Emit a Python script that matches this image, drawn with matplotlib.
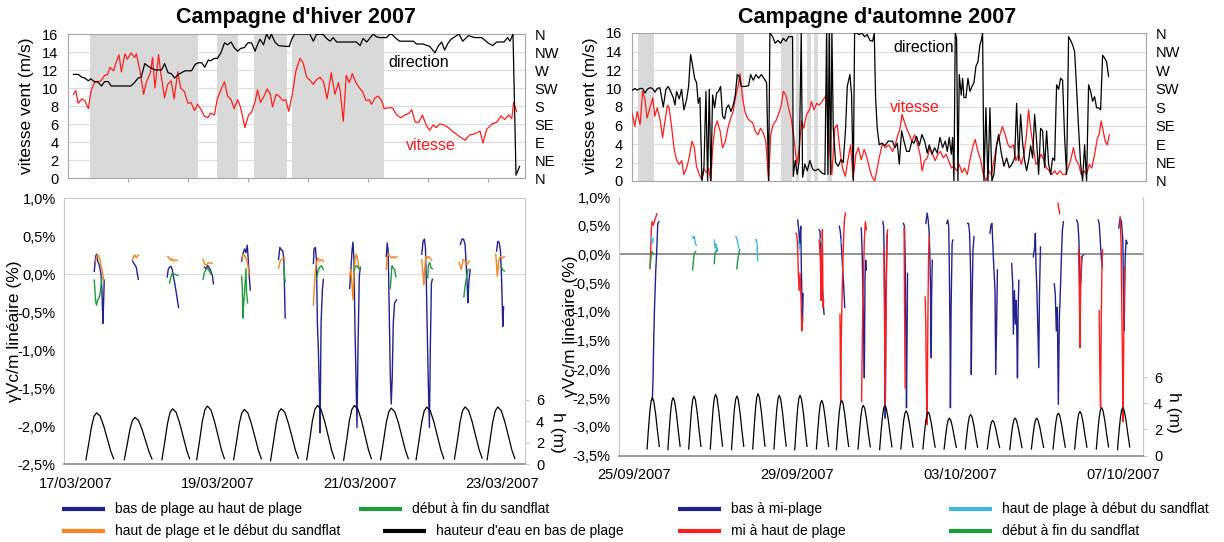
import matplotlib
matplotlib.use("Agg")
import matplotlib.pyplot as plt
from matplotlib.ticker import FuncFormatter
import numpy as np

plt.rcParams['font.family'] = ['Liberation Sans', 'DejaVu Sans']

# ---------------- winter campaign : wind (top left) ----------------
# time in plot units (one unit per x tick), speed m/s, direction deg
w_speed_t = [0.09,0.13,0.17,0.23,0.28,0.34,0.38,0.44,0.49,0.55,0.61,0.66,0.70,0.76,0.81,0.85,0.89,0.95,0.99,1.05,
             1.11,1.14,1.20,1.26,1.31,1.37,1.41,1.45,1.51,1.55,1.61,1.66,1.72,1.77,1.83,1.88,1.94,2.00,2.05,2.11,
             2.16,2.22,2.27,2.33,2.38,2.44,2.49,2.55,2.61,2.66,2.72,2.77,2.83,2.88,2.95,3.01,3.06,3.12,3.16,3.21,
             3.27,3.32,3.37,3.41,3.47,3.52,3.58,3.63,3.68,3.74,3.80,3.87,3.92,3.98,4.03,4.09,4.14,4.20,4.26,4.32,
             4.39,4.45,4.51,4.54,4.59,4.64,4.69,4.74,4.80,4.86,4.91,4.97,5.02,5.06,5.12,5.17,5.23,5.27,5.34,5.41,
             5.48,5.55,5.62,5.69,5.73,5.79,5.85,5.91,5.97,6.03,6.09,6.14,6.20,6.27,6.34,6.41,6.53,6.62,6.70,6.78,
             6.87,6.92,6.98,7.07,7.15,7.22,7.28,7.35,7.40,7.43,7.48]
w_speed = [9.3,9.7,8.3,8.8,8.6,7.7,9.6,10.6,10.7,10.8,11.4,11.5,12.3,11.9,13.0,13.7,11.8,13.8,13.2,13.9,
           13.4,13.8,11.9,9.3,10.7,11.6,13.4,10.0,13.7,11.5,8.9,10.4,10.8,8.8,11.8,10.0,9.6,8.3,8.4,7.5,
           8.2,7.6,6.9,6.7,7.2,7.0,8.8,9.8,10.7,9.1,8.7,7.7,8.7,7.8,5.6,7.0,7.3,8.5,9.8,8.4,
           9.1,9.9,9.4,7.9,9.3,9.1,8.6,8.7,7.4,9.3,11.9,13.3,12.8,11.2,10.9,10.4,10.9,11.2,10.7,8.8,
           11.7,9.3,10.6,9.6,6.3,11.4,10.6,11.6,10.6,10.0,9.6,8.6,8.7,8.2,8.9,9.1,8.6,7.7,7.8,7.8,
           7.0,6.7,7.0,7.2,7.6,6.2,6.2,7.0,5.9,5.3,5.9,5.6,6.0,5.9,5.6,5.2,4.6,4.2,4.8,4.9,
           5.2,3.9,5.4,6.0,6.2,6.9,6.5,7.0,6.6,8.4,7.4]
w_dir_t = [0.09,0.17,0.23,0.28,0.34,0.38,0.44,0.49,0.56,0.61,0.67,0.72,1.05,1.11,1.17,1.22,1.28,1.34,1.39,1.45,
           1.56,1.61,1.67,1.72,1.78,1.84,1.89,1.95,2.06,2.12,2.17,2.23,2.28,2.34,2.38,2.44,2.49,2.55,2.61,2.66,
           2.72,2.77,2.83,2.88,2.94,3.00,3.06,3.12,3.14,3.20,3.26,3.31,3.36,3.39,3.45,3.51,3.63,3.69,3.73,3.78,
           3.98,4.03,4.09,4.14,4.20,4.26,4.31,4.37,4.42,4.48,4.81,4.87,4.92,4.98,5.03,5.09,5.14,5.20,5.31,5.37,
           5.41,5.47,5.53,5.76,5.81,5.92,6.03,6.12,6.17,6.23,6.28,6.34,6.39,6.52,6.58,6.68,6.78,6.90,7.00,7.08,
           7.15,7.27,7.33,7.37,7.42,7.47,7.53]
w_dir = [259,259,252,250,243,248,241,241,230,241,241,230,230,239,250,252,286,279,275,270,
         270,286,263,261,250,259,263,268,268,284,288,288,277,295,293,299,299,313,338,333,
         340,326,317,324,326,338,338,317,326,347,333,360,347,360,340,331,329,329,347,360,
         360,360,342,358,360,358,349,342,351,340,340,331,349,340,349,360,353,351,351,360,
         358,349,342,342,335,335,329,313,329,340,320,338,347,360,342,356,351,351,338,331,
         340,340,351,342,360,7,29]
w_calm = [(0.37, 2.17), (2.48, 2.83), (3.10, 3.65), (3.73, 5.27)]

# ---------------- autumn campaign : wind (top right) ----------------
aut_t0 = 24.90  # day of September of first record
a_speed_t = [0,.07,.12,.18,.25,.31,.37,.42,.49,.56,.61,.67,.74,.80,.87,.92,.96,1.02,1.08,1.14,1.21,1.27,1.32,1.39,
             1.45,1.52,1.58,1.63,1.70,1.76,1.81,1.88,1.93,1.98,2.03,2.08,2.14,2.21,2.27,2.34,2.40,2.47,2.53,2.60,
             2.66,2.70,2.76,2.82,2.88,2.94,3.01,3.07,3.14,3.20,3.27,3.33,3.40,3.45,3.51,3.58,3.64,3.71,3.76,3.82,
             3.89,3.95,4.02,4.09,4.15,4.21,4.26,4.33,4.40,4.45,4.51,4.58,4.64,4.71,4.77,4.82,4.89,4.95,5.02,5.08,
             5.15,5.21,5.28,5.34,5.41,5.47,5.54,5.60,5.67,5.74,5.80,5.87,5.93,6.00,6.06,6.13,6.19,6.26,6.34,
             6.44,6.50,6.55,6.62,6.67,6.72,6.78,6.85,6.91,6.98,7.04,7.11,7.16,7.22,7.29,7.35,7.42,7.48,7.55,7.61,
             7.68,7.75,7.81,7.88,7.94,8.01,8.07,8.14,8.20,8.27,8.33,8.40,8.46,8.53,8.60,8.66,8.73,8.79,8.86,8.92,
             8.99,9.07,9.13,9.20,9.27,9.33,9.40,9.46,9.53,9.59,9.66,9.72,9.77,9.82,9.89,9.95,10.02,10.08,10.15,
             10.21,10.28,10.34,10.41,10.47,10.54,10.61,10.67,10.74,10.80,10.87,10.93,11.00,11.06,11.13,11.19,
             11.26,11.32,11.39,11.46,11.50,11.55,11.60,11.65,11.70,11.75]
a_speed = [8.1,7.0,5.9,7.5,6.1,9.7,8.8,6.8,7.9,9.0,7.0,7.9,6.6,4.7,6.8,8.2,7.9,5.9,3.6,2.3,1.8,2.2,0.7,1.4,
           2.5,4.3,3.6,1.6,0.7,0.2,1.3,0.9,1.4,0.0,3.6,5.7,6.5,5.4,3.6,4.3,5.7,6.8,7.5,9.3,
           10.4,11.6,9.0,7.5,6.8,6.5,6.3,5.4,5.0,5.7,5.2,4.3,0.0,5.0,6.1,6.5,7.2,8.2,9.7,9.3,
           7.9,6.8,4.7,1.8,3.6,6.5,5.7,7.2,7.7,8.6,7.7,8.4,8.2,8.6,9.0,9.3,3.6,0.7,5.7,6.1,
           3.2,1.4,0.5,2.2,3.9,0.2,2.9,3.6,2.3,3.4,2.7,1.4,0.5,0.0,1.4,2.9,4.1,3.6,3.9,
           3.2,3.9,4.7,5.7,7.2,6.5,5.7,5.0,4.3,5.0,4.1,2.9,1.1,2.2,2.5,3.6,2.9,2.2,2.9,3.2,
           2.5,2.9,2.2,1.4,1.6,1.1,1.8,0.9,1.4,0.7,2.2,3.6,4.5,3.2,2.2,0.7,0.0,1.1,0.7,2.2,
           3.9,5.0,5.9,5.0,3.9,3.6,3.9,2.2,2.9,1.8,2.9,5.0,7.7,5.7,3.6,1.8,2.2,2.9,2.2,
           1.4,1.1,0.7,1.1,0.7,1.1,0.7,0.7,1.4,2.2,3.6,2.3,1.8,0.7,1.1,0.7,
           1.8,1.4,2.9,4.7,5.0,6.5,5.4,4.3,3.9,5.0]
a_dir_t = [0,.065,.123,.180,.245,.310,.368,.425,.490,.556,.613,.670,.735,.817,.882,.940,.997,1.062,1.103,1.144,
           1.209,1.266,1.324,1.389,1.438,1.487,1.536,1.585,1.634,1.675,1.716,1.765,1.814,1.863,1.904,1.944,1.985,
           2.026,2.075,2.124,2.173,2.222,2.271,2.320,2.369,2.418,2.476,2.533,2.582,2.631,2.680,2.729,2.819,2.909,
           2.958,3.023,3.088,3.154,3.219,3.284,3.350,3.399,3.431,3.497,3.562,3.627,3.693,3.758,3.824,3.889,3.987,
           4.003,4.052,4.101,4.150,4.199,4.232,4.289,4.346,4.412,4.477,4.534,4.616,4.698,4.779,4.820,4.853,4.886,
           4.918,4.951,4.984,5.041,5.106,5.172,5.229,5.286,5.327,5.392,5.433,5.474,5.507,5.556,5.621,5.686,5.752,
           5.817,5.882,5.948,5.989,6.021,6.062,6.111,6.168,6.250,6.332,
           6.438,6.496,6.553,6.602,6.659,6.716,6.782,6.847,6.912,6.961,7.027,7.092,7.157,7.223,7.288,7.337,7.402,
           7.468,7.533,7.599,7.664,7.729,7.778,7.827,7.876,7.909,7.942,7.974,8.007,8.040,8.072,8.121,8.154,8.187,
           8.236,8.285,8.334,8.383,8.432,8.481,8.530,8.579,8.612,8.644,8.677,8.726,8.775,8.824,8.873,8.922,8.987,
           9.036,9.102,9.167,9.233,9.298,9.363,9.429,9.478,9.527,9.576,9.625,9.674,9.723,9.772,9.821,9.870,9.919,
           9.968,10.017,10.066,10.115,10.164,10.213,10.262,10.311,10.360,10.409,10.458,10.507,10.556,10.605,
           10.654,10.703,10.752,10.801,10.850,10.899,10.948,10.997,11.046,11.095,11.144,11.193,11.242,11.291,
           11.340,11.389,11.438,11.487,11.536,11.585,11.634,11.683,11.732]
a_dir = [225,221,225,221,225,225,214,223,227,225,216,225,227,180,223,230,218,203,185,218,
         200,223,173,198,230,308,281,250,239,189,203,0,32,218,0,223,0,
         209,178,214,218,230,158,151,178,185,169,185,209,259,254,230,230,232,
         259,245,259,250,259,250,239,0,360,351,335,342,335,347,340,351,351,
         11,50,16,50,360,9,41,25,50,29,25,29,20,16,360,16,360,
         16,360,128,45,36,52,45,128,230,259,209,0,360,360,356,360,351,
         356,342,340,360,203,128,88,92,86,97,
         97,81,92,41,122,97,72,72,97,92,108,86,113,97,68,88,65,
         81,68,106,81,97,72,106,65,106,0,360,347,0,259,209,250,203,
         203,250,218,230,239,279,290,331,342,360,0,178,0,178,0,16,88,
         113,68,36,56,32,41,56,189,50,162,92,50,25,50,86,56,162,
         97,16,128,122,32,122,41,16,56,50,234,223,250,245,
         106,16,351,342,331,315,225,128,41,0,88,0,234,218,
         194,205,178,178,173,306,299,290,254]
a_calm = [(25.11, 25.50), (27.50, 27.70), (28.60, 28.87), (28.96, 29.05),
          (29.23, 29.34), (29.42, 29.52), (29.72, 29.85)]

# ---------------- winter campaign : strain and tide (bottom left) ----------------
w_hw = [17.29, 17.83, 18.36, 18.85, 19.37, 19.89, 20.40, 20.92, 21.44, 21.94, 22.48, 22.94]
w_tide_off = [-0.15, -0.11, -0.07, -0.035, 0, 0.05, 0.10, 0.15, 0.20, 0.24]
w_tide_h = [
    [0.4, 1.94, 3.56, 4.48, 4.79, 4.48, 3.56, 2.38, 1.19, 0.49],
    [0.4, 1.79, 3.25, 4.08, 4.36, 4.08, 3.25, 2.18, 1.11, 0.48],
    [0.4, 2.07, 3.83, 4.84, 5.17, 4.84, 3.83, 2.55, 1.26, 0.50],
    [0.4, 2.16, 4.01, 5.07, 5.42, 5.07, 4.01, 2.66, 1.30, 0.50],
    [0.4, 2.05, 3.79, 4.78, 5.11, 4.78, 3.79, 2.52, 1.25, 0.49],
    [0.3, 2.00, 3.80, 4.85, 5.17, 4.85, 3.85, 2.60, 1.30, 0.55],
    [0.4, 2.18, 4.06, 5.12, 5.48, 5.12, 4.06, 2.69, 1.31, 0.50],
    [0.35, 2.15, 4.05, 5.10, 5.48, 5.15, 4.10, 2.70, 1.30, 0.50],
    [0.4, 2.09, 3.88, 4.89, 5.23, 4.89, 3.88, 2.57, 1.27, 0.50],
    [0.4, 2.13, 3.95, 4.98, 5.33, 4.98, 3.95, 2.62, 1.29, 0.50],
    [0.45, 2.10, 3.95, 5.00, 5.34, 5.00, 3.95, 2.60, 1.30, 0.55],
    [0.4, 2.15, 3.96, 4.97, 5.34, 4.99, 3.94, 2.63, 1.28, 0.52],
]
# (tide index, minutes from high water, strain %)
w_navy = [
    (0, [-47,-20,0,20,54,88,108,128,142,155], [0.035,0.23,0.26,0.17,0.12,0.01,-0.21,-0.65,-0.38,-0.08]),
    (1, [-47,-20,7,27,47,68], [0.17,0.14,0.11,0.09,0.01,-0.07]),
    (2, [-108,-88,-61,-34,-7,20,54,88,122], [-0.04,0.06,0.09,0.10,0.06,-0.04,-0.16,-0.30,-0.44]),
    (3, [-61,-27,7,41,74,108,122], [0.09,0.07,0.11,0.08,0.035,-0.04,-0.13]),
    (4, [-54,-20,7,34,61,81,101,122], [0.17,0.28,0.33,0.28,0.38,0.19,-0.03,-0.21]),
    (5, [-54,-27,0,34,54,68,81], [0.19,0.35,0.32,0.30,0.19,-0.21,-0.58]),
    (6, [-81,-68,-41,-20,0,20,41,54,74,101,122], [0.14,0.33,0.35,0.19,-0.65,-1.00,-1.54,-2.09,-0.65,-0.21,-0.07]),
    (7, [-95,-74,-47,-27,-7,14,34,54,74,101,122], [-0.19,0.01,0.30,0.42,0.19,-0.74,-1.36,-2.02,-1.00,-0.03,0.09]),
    (8, [-101,-81,-61,-41,-20,0,20,41,68,108], [0.23,0.41,0.28,-0.47,-1.31,-1.71,-1.36,-0.65,-0.38,-0.34]),
    (9, [-101,-74,-47,-27,-7,14,34,54,74,95,115], [0.26,0.43,0.46,0.35,-0.12,-0.87,-1.49,-2.02,-0.92,-0.12,-0.07]),
    (10, [-95,-63,-32,0,24,48,55,79,103], [0.39,0.46,0.46,0.39,0.10,-0.21,-0.38,-0.08,0.06]),
    (11, [-24,0,32,55,79,103,119], [0.30,0.43,0.41,0.30,-0.08,-0.69,-0.43]),
]
w_orange = [
    (0, [-20,7,34,61,88,108,128,142], [0.17,0.24,0.25,0.21,0.12,0.06,-0.01,-0.08]),
    (1, [-54,-27,0,27,54,68], [0.19,0.23,0.25,0.21,0.24,0.25]),
    (2, [-95,-68,-41,-14,20,54,95], [0.23,0.21,0.18,0.20,0.17,0.18,0.18]),
    (3, [-88,-61,-27,7,47,95], [0.19,0.14,0.11,0.14,0.15,0.14]),
    (4, [-54,-20,14,47,74,95], [0.21,0.26,0.23,0.19,0.12,-0.01]),
    (5, [-54,-20,14,47,74], [0.08,0.17,0.19,0.21,0.19]),
    (6, [-81,-68,-47,-20,14,47,81,122], [-0.41,-0.21,-0.01,0.15,0.21,0.17,0.19,0.17]),
    (7, [-95,-74,-47,-27,-7,14,41,68,95], [-0.03,0.06,-0.14,-0.34,-0.03,0.19,0.26,0.19,0.08]),
    (8, [-101,-81,-54,-20,14,47,81,108], [0.06,0.23,0.26,0.23,0.21,0.23,0.21,0.23]),
    (9, [-101,-74,-61,-41,-20,7,34,68,101], [0.19,-0.01,-0.14,0.06,0.23,0.21,0.23,0.21,0.18]),
    (10, [-119,-79,-40,0,40,79], [0.15,0.06,0.19,0.17,0.12,0.17]),
    (11, [-40,-8,24,55,95,135], [0.26,-0.03,0.19,0.23,0.21,0.23]),
]
w_green = [
    (0, [-47,-34,-20,0,20,47,68,88,108], [-0.08,-0.21,-0.36,-0.41,-0.34,-0.32,-0.27,-0.16,-0.05]),
    (2, [-61,-34,-7,27,68,108], [-0.12,-0.04,0.01,0.0,-0.01,-0.02]),
    (3, [-88,-61,-27,7,41,74], [-0.07,0.02,0.06,0.08,0.035,0.0]),
    (4, [-54,-41,-27,-7,14,34,47,68], [-0.03,-0.16,-0.58,-0.34,-0.16,0.07,-0.25,-0.38]),
    (5, [54,68,81], [0.08,-0.03,-0.10]),
    (6, [-20,14,47,81,122], [-0.07,0.04,0.09,0.11,0.06]),
    (7, [-7,20,54,88,122], [0.04,0.10,0.11,0.07,0.08]),
    (8, [-20,0,14,41,68,95], [-0.19,-0.03,0.11,0.08,0.06,-0.04]),
    (9, [20,34,61,88,115], [-0.05,0.12,0.15,0.08,0.07]),
    (10, [-24,0,32,63], [-0.30,-0.16,-0.03,0.06]),
    (11, [71,103,135], [0.10,0.05,0.04]),
]

# ---------------- autumn campaign : strain and tide (bottom right) ----------------
a_hw = [25.45, 25.96, 26.47, 27.00, 27.52, 28.04, 28.56, 29.07, 29.60, 30.09, 30.62, 31.15,
        31.67, 32.21, 32.73, 33.25, 33.79, 34.34, 34.87, 35.40, 35.93, 36.46, 36.98]
a_tide_off = [-0.13, -0.095, -0.06, -0.03, 0, 0.035, 0.08, 0.125, 0.17]
a_tide_h = [
    [0.5, 2.08, 3.46, 4.20, 4.44, 4.16, 3.18, 1.88, 0.70],
    [0.45, 2.05, 3.45, 4.20, 4.44, 4.15, 3.20, 1.90, 0.70],
    [0.5, 2.12, 3.55, 4.32, 4.56, 4.28, 3.26, 1.92, 0.70],
    [0.5, 2.18, 3.64, 4.44, 4.69, 4.40, 3.35, 1.97, 0.71],
    [0.45, 2.10, 3.55, 4.30, 4.56, 4.30, 3.25, 1.90, 0.70],
    [0.5, 2.20, 3.69, 4.50, 4.75, 4.45, 3.39, 1.99, 0.71],
    [0.5, 2.15, 3.59, 4.37, 4.62, 4.33, 3.30, 1.94, 0.71],
    [0.45, 2.15, 3.60, 4.38, 4.62, 4.32, 3.30, 1.95, 0.70],
    [0.5, 1.99, 3.30, 4.01, 4.23, 3.97, 3.04, 1.81, 0.69],
    [0.45, 2.00, 3.30, 4.00, 4.23, 3.98, 3.05, 1.80, 0.70],
    [0.5, 1.84, 3.01, 3.65, 3.85, 3.62, 2.78, 1.67, 0.67],
    [0.45, 1.85, 3.00, 3.65, 3.85, 3.60, 2.80, 1.68, 0.67],
    [0.5, 1.67, 2.70, 3.25, 3.43, 3.22, 2.49, 1.53, 0.65],
    [0.5, 1.63, 2.62, 3.16, 3.33, 3.13, 2.42, 1.49, 0.64],
    [0.5, 1.45, 2.28, 2.73, 2.87, 2.70, 2.11, 1.33, 0.62],
    [0.5, 1.56, 2.49, 2.99, 3.15, 2.96, 2.30, 1.43, 0.63],
    [0.5, 1.38, 2.14, 2.56, 2.69, 2.54, 1.99, 1.27, 0.61],
    [0.45, 1.45, 2.27, 2.72, 2.87, 2.70, 2.10, 1.33, 0.60],
    [0.5, 1.46, 2.28, 2.74, 2.87, 2.69, 2.12, 1.34, 0.62],
    [0.5, 1.60, 2.56, 3.09, 3.25, 3.06, 2.37, 1.46, 0.64],
    [0.5, 1.65, 2.66, 3.21, 3.38, 3.18, 2.46, 1.51, 0.64],
    [0.5, 1.77, 2.88, 3.48, 3.67, 3.45, 2.66, 1.61, 0.66],
    [0.45, 1.76, 2.87, 3.47, 3.67, 3.44, 2.67, 1.62, 0.66],
]
a_navy = [
    (0, [0,24,48,72,96,120,144,168,192,228], [-2.53,-2.15,-1.5,-0.98,-0.63,-0.27,-0.04,0.25,0.54,0.57]),
    (7, [-84,-48,-12,24,48,84,108], [0.60,0.43,0.19,0.49,-0.33,-1.18,-0.68]),
    (8, [-96,-60,-24,12,48,84], [0.43,0.40,-0.04,-0.51,-0.8,-1.04]),
    (9, [-84,-48,-12,24,60,108], [0.49,0.40,0.16,-0.16,-0.45,-0.92]),
    (10, [-72,-36,-12,12,36,60,84,108], [0.46,-0.04,-0.74,-1.21,-2.15,-0.39,-0.10,-0.27]),
    (11, [-72,-48,-24,-12,0,12,36,60,84], [0.57,0.49,-0.04,-0.92,-1.80,-2.85,-0.63,-0.04,0.37]),
    (12, [-96,-60,-36,-12,12,36,48], [0.54,0.49,-0.04,-1.21,-2.67,-1.21,-0.33]),
    (13, [-84,-36,0,36,60,84,108,120,144], [0.54,0.72,0.6,0.37,-0.04,-0.63,-1.80,-0.74,-0.10]),
    (14, [-96,-60,-24,0,24,36,60,96,120], [0.54,0.6,0.49,-0.33,-1.5,-2.67,-0.92,0.19,0.25]),
    (15, [-108,-72,-36,0,24,48,84,120], [0.54,0.54,0.37,-0.33,-2.09,-0.92,0.08,0.31]),
    (16, [-96,-60,-24,24,84,108,144,168], [0.37,0.51,0.54,-0.04,-0.63,-2.09,-1.10,-0.27]),
    (17, [-120,-84,-60,-24,12,36,60,84,108,132], [-0.16,-0.51,-1.39,-0.63,-1.21,-0.8,-1.33,-2.15,-0.98,-0.45]),
    (18, [-120,-72,-48,-24,0,36,72,96,132], [-0.04,0.13,0.37,-0.22,-0.51,-1.21,-1.97,-0.74,0.13]),
    (19, [-144,-108,-72,-36,0,36,72,108,144,180], [-0.51,-0.68,-1.33,-0.92,-2.61,-1.10,-0.63,-0.04,0.43,0.57]),
    (20, [-120,-72,-36,0,36,72,120], [0.6,0.54,0.25,-0.63,-0.39,-0.04,-0.01]),
    (21, [-120,-84,-48,-12,24], [0.6,0.54,0.25,-0.04,-0.22]),
    (22, [-144,-96,-48,0,24,48,84,120,156], [0.46,0.63,0.57,0.25,-0.63,-1.33,-0.04,0.25,0.19]),
]
a_red = [
    (0, [-84,-60,-36,-12,36,84,132,156], [-0.25,0.08,0.43,0.57,0.51,0.60,0.66,0.71]),
    (7, [-144,-108,-84,-60,-36,0,36,60,84], [0.37,0.31,0.08,-0.33,-0.63,-0.33,-0.8,-1.33,-1.1]),
    (8, [-84,-48,-24,0,24,48,72], [0.25,-0.1,-0.8,-0.33,0.43,-0.92,-0.8]),
    (9, [-60,-36,-12,24,60,96,132], [-1.04,-2.56,-1.39,-0.51,0.19,0.60,0.72]),
    (10, [-60,-36,0,36,72,108], [-2.56,-1.5,-0.51,0.25,0.57,0.43]),
    (11, [-36,-12,12,48,72,96], [0.08,-1.21,-2.63,-0.63,0.31,0.43]),
    (12, [-72,-60,-48,-36], [0.46,-0.63,-1.5,-2.32]),
    (13, [-108,-84,-60,-36,-12,12,36], [-0.74,-1.21,-2.38,-2.96,-1.21,-0.04,0.31]),
    (19, [-12,12,48], [0.89,0.81,0.71]),
    (20, [-48,-24,0,24,48], [0.08,-0.63,-1.62,-0.63,-0.04]),
    (21, [-84,-60,-36,-12,12,36], [-0.98,-2.09,-2.67,-1.21,-0.22,0.08]),
    (22, [-96,-60,-36,-12,12,36,60], [0.66,0.19,-0.92,-1.80,-2.91,-1.21,-0.22]),
]
a_cyan = [
    (0, [-48,-24,0,36], [0.31,0.25,0.19,0.28]),
    (2, [-48,-24,12,48,84], [0.31,0.28,0.31,0.19,0.16]),
    (3, [-48,-24,12,48,72], [0.25,0.11,0.19,0.05,0.11]),
    (4, [-36,0,36,72], [0.31,0.28,0.19,0.11]),
    (5, [-84,-60,-36,-24,-12], [0.25,0.26,0.19,0.02,-0.11]),
    (7, [-60,-24,12], [0.25,0.13,0.05]),
    (8, [-60,-24], [0.28,0.22]),
    (9, [-36,0], [0.25,0.19]),
]
a_green = [
    (0, [-84,-48,-12,24], [-0.22,-0.04,0.05,0.02]),
    (2, [-48,-24,12,60], [-0.27,-0.13,0.02,0.05]),
    (3, [-48,-24,12,48], [-0.16,0.02,0.05,0.08]),
    (4, [0,24,60,96], [-0.25,-0.13,-0.01,0.08]),
]

compass = ['N', 'NE', 'E', 'SE', 'S', 'SW', 'W', 'NW', 'N']
w_dates = ['17/03/2007', '19/03/2007', '21/03/2007', '23/03/2007']
a_dates = ['25/09/2007', '29/09/2007', '03/10/2007', '07/10/2007']

NAVY = '#23238e'
ORANGE = '#f7841f'
GREEN = '#1f9a3c'
RED = '#ff1e1e'
CYAN = '#44b8de'
SHADE = '#d9d9d9'
FS = 10.5

W, H = 1224, 542
fig = plt.figure(figsize=(W / 100, H / 100), dpi=100)


def box(l, t, r, b):
    return [l / W, 1 - b / H, (r - l) / W, (b - t) / H]


def pct(v, _):
    return ('%.1f%%' % v).replace('.', ',')


def wind_panel(rect, xlim, calm, st, sp, dt, dr):
    ax = fig.add_axes(rect)
    ax.set_xlim(*xlim)
    ax.set_ylim(0, 16)
    for y in range(2, 16, 2):
        ax.axhline(y, color='#dcdcdc', lw=0.8, zorder=0)
    for a, b in calm:
        ax.axvspan(a, b, color=SHADE, lw=0, zorder=0.5)
    ax.plot(st, sp, color=RED, lw=0.9, zorder=3)
    ax.set_yticks(range(0, 17, 2))
    ax.tick_params(axis='y', length=0, labelsize=FS, pad=7)
    for s in ax.spines.values():
        s.set_color('#a6a6a6')
    ax2 = ax.twinx()
    ax2.set_ylim(0, 360)
    ax2.plot(dt, dr, color='black', lw=0.9)
    ax2.set_yticks(range(0, 361, 45))
    ax2.set_yticklabels(compass)
    ax2.tick_params(length=0, labelsize=FS, pad=7)
    for s in ax2.spines.values():
        s.set_visible(False)
    return ax


# top left
ax = wind_panel(box(68, 34, 525, 178), (0, 7.62), w_calm, w_speed_t, w_speed, w_dir_t, w_dir)
ax.set_xticks(range(1, 8))
ax.tick_params(axis='x', length=3, color='#a6a6a6', labelbottom=False)
ax.text(5.35, 12.8, 'direction', fontsize=11.5, va='center')
ax.text(5.63, 3.6, 'vitesse', fontsize=11.5, va='center', color=RED)

# top right
ax = wind_panel(box(632, 33, 1146, 181), (24.951, 37.549), a_calm,
                aut_t0 + np.array(a_speed_t), a_speed, aut_t0 + np.array(a_dir_t), a_dir)
ax.set_xticks([])
ax.text(31.35, 14.4, 'direction', fontsize=11.5, va='center')
ax.text(31.27, 8.0, 'vitesse', fontsize=11.5, va='center', color=RED)


def strain_panel(rect, xlim, ylim, hmax, zero_col, ticks, labels, hw, toff, th, series):
    ax = fig.add_axes(rect)
    ax.set_xlim(*xlim)
    ax.set_ylim(*ylim)
    ax.axhline(0, color=zero_col, lw=1.2 if zero_col != '#dcdcdc' else 0.9, zorder=0)
    ax.set_yticks(np.arange(ylim[0], ylim[1] + 0.01, 0.5))
    ax.yaxis.set_major_formatter(FuncFormatter(pct))
    ax.tick_params(axis='y', length=0, labelsize=FS, pad=6)
    ax.set_xticks(ticks)
    ax.set_xticklabels(labels)
    ax.tick_params(axis='x', length=0, labelsize=FS, pad=9)
    for s in ax.spines.values():
        s.set_color('#c8c8c8')
    ax.spines['bottom'].set_color('#808080')
    ax.spines['bottom'].set_linewidth(1.1)
    for segs, col in series:
        for i, mins, vals in segs:
            ax.plot(hw[i] + np.array(mins) / 1440.0, vals, color=col, lw=1.0, zorder=3)
    axh = ax.twinx()
    axh.set_ylim(0, hmax)
    for i in range(len(hw)):
        axh.plot(hw[i] + np.array(toff), th[i], color='black', lw=0.9)
    axh.set_yticks([0, 2, 4, 6])
    axh.tick_params(length=3, color='#c8c8c8', labelsize=FS, pad=5)
    for s in axh.spines.values():
        s.set_visible(False)
    return ax


ax = strain_panel(box(64, 198, 525, 464), (16.831, 23.324), (-2.5, 1.0), 24.9, '#dcdcdc',
                  [17, 19, 21, 23], w_dates, w_hw, w_tide_off, w_tide_h,
                  [(w_navy, NAVY), (w_orange, ORANGE), (w_green, GREEN)])

ax = strain_panel(box(619, 197, 1143, 455.5), (24.632, 37.475), (-3.5, 1.0), 19.85, '#808080',
                  [25, 29, 33, 37], a_dates, a_hw, a_tide_off, a_tide_h,
                  [(a_navy, NAVY), (a_red, RED), (a_cyan, CYAN), (a_green, GREEN)])
ax.spines['top'].set_visible(False)

# overlay for titles, axis titles and legend
lay = fig.add_axes([0, 0, 1, 1], zorder=10)
lay.set_xlim(0, W)
lay.set_ylim(H, 0)
lay.axis('off')
lay.patch.set_alpha(0)

lay.text(296, 18, "Campagne d'hiver 2007", ha='center', va='center', fontsize=15.5, fontweight='bold')
lay.text(877, 17, "Campagne d'automne 2007", ha='center', va='center', fontsize=15.5, fontweight='bold')
lay.text(27, 106, 'vitesse vent (m/s)', rotation=90, ha='center', va='center', fontsize=12.5)
lay.text(591, 106, 'vitesse vent (m/s)', rotation=90, ha='center', va='center', fontsize=12.5)
lay.text(15, 331, 'γVc/m linéaire (%)', rotation=90, ha='center', va='center', fontsize=12.5)
lay.text(571, 326, 'γVc/m linéaire (%)', rotation=90, ha='center', va='center', fontsize=12.5)
lay.text(557, 432, 'h (m)', rotation=270, ha='center', va='center', fontsize=12.5)
lay.text(1174, 412, 'h (m)', rotation=270, ha='center', va='center', fontsize=12.5)

legend_items = [
    (62, 509, NAVY, 'bas de plage au haut de plage'),
    (62, 531, ORANGE, 'haut de plage et le début du sandflat'),
    (359, 509, GREEN, 'début à fin du sandflat'),
    (383, 531, 'black', "hauteur d'eau en bas de plage"),
    (678, 509, NAVY, 'bas à mi-plage'),
    (678, 531, RED, 'mi à haut de plage'),
    (949, 509, CYAN, 'haut de plage à début du sandflat'),
    (949, 531, GREEN, 'début à fin du sandflat'),
]
for x, y, col, lab in legend_items:
    lay.plot([x, x + 43], [y, y], color=col, lw=3, solid_capstyle='butt')
    lay.text(x + 53, y, lab, ha='left', va='center', fontsize=10)

fig.savefig('out.png', dpi=100)
